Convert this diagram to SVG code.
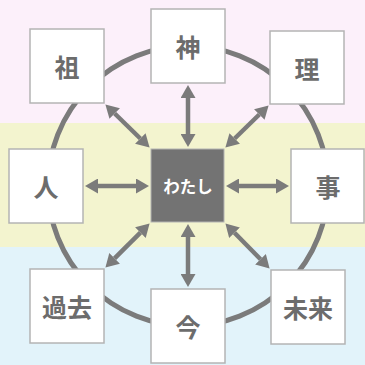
<svg xmlns="http://www.w3.org/2000/svg" width="365" height="365" viewBox="0 0 365 365">
<style>
.box{fill:#ffffff;stroke:#b4b4b4;stroke-width:1.5}
.lbl{font-family:"Noto Sans CJK JP","Noto Sans",sans-serif;font-weight:bold;font-size:25px;fill:#6c6c6c;text-anchor:middle;dominant-baseline:central}
.ctr{fill:#737373;stroke:#b4b4b4;stroke-width:1}
.ctrl{font-family:"Noto Sans CJK JP","Noto Sans",sans-serif;font-weight:bold;font-size:16.5px;fill:#ffffff;text-anchor:middle;dominant-baseline:central}
.arr{stroke:#7b7b7b;stroke-width:4.5;fill:none;marker-start:url(#ah);marker-end:url(#ah)}
</style>
<defs>
<marker id="ah" viewBox="0 0 13 15" refX="0" refY="7.5" markerWidth="13" markerHeight="15" markerUnits="userSpaceOnUse" orient="auto-start-reverse">
<path d="M0,0 L13,7.5 L0,15 z" fill="#7b7b7b"/>
</marker>
</defs>
<g id="background">
<rect x="0" y="0" width="365" height="123" fill="#fcf0fa"/>
<rect x="0" y="123" width="365" height="124" fill="#f3f4cf"/>
<rect x="0" y="247" width="365" height="118" fill="#e2f3fa"/>
</g>
<g id="connectors">
<circle cx="188" cy="186" r="140" fill="none" stroke="#7b7b7b" stroke-width="5"/>
<line class="arr" x1="188" y1="98" x2="188" y2="134"/>
<line class="arr" x1="188" y1="274" x2="188" y2="237"/>
<line class="arr" x1="98" y1="186" x2="136" y2="186"/>
<line class="arr" x1="276" y1="186" x2="239" y2="186"/>
<line class="arr" x1="114.7" y1="113.5" x2="140.3" y2="138.5"/>
<line class="arr" x1="259.3" y1="114.5" x2="234.7" y2="138.5"/>
<line class="arr" x1="114.6" y1="258.4" x2="140.4" y2="232.6"/>
<line class="arr" x1="260.5" y1="259.3" x2="234.5" y2="232.7"/>
</g>
<g id="node-so"><rect class="box" x="30" y="29" width="74" height="74"/><text class="lbl" x="67" y="66">祖</text></g>
<g id="node-kami"><rect class="box" x="151" y="9" width="74" height="74"/><text class="lbl" x="188" y="46">神</text></g>
<g id="node-ri"><rect class="box" x="270" y="31" width="74" height="73"/><text class="lbl" x="307" y="68">理</text></g>
<g id="node-hito"><rect class="box" x="9" y="149" width="74" height="74"/><text class="lbl" x="46" y="186">人</text></g>
<g id="node-watashi"><rect class="ctr" x="151" y="149" width="73" height="73"/><text class="ctrl" x="188" y="186">わたし</text></g>
<g id="node-koto"><rect class="box" x="291" y="149" width="73" height="74"/><text class="lbl" x="328" y="186">事</text></g>
<g id="node-kako"><rect class="box" x="30" y="269" width="74" height="74"/><text class="lbl" x="67" y="306">過去</text></g>
<g id="node-ima"><rect class="box" x="151" y="289" width="74" height="74"/><text class="lbl" x="188" y="326">今</text></g>
<g id="node-mirai"><rect class="box" x="271" y="270" width="74" height="74"/><text class="lbl" x="308" y="307">未来</text></g>
</svg>
